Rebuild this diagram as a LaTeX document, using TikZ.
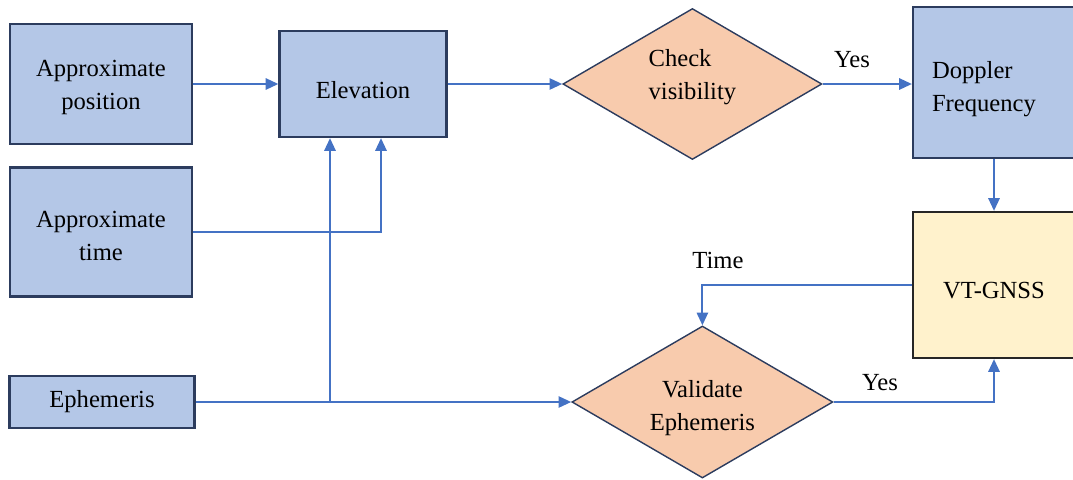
\documentclass[tikz,border=0pt]{standalone}
\usepackage{fontspec}
\setmainfont{Liberation Serif}
\usepackage{tikz}
\usetikzlibrary{shapes.geometric,arrows.meta}

\begin{document}
\begin{tikzpicture}[
        font=\fontsize{17.5}{23.5}\selectfont,
        blockbox/.style={draw=bordercolor, line width=1.6pt, fill=boxcolor, align=center, inner sep=0pt},
        decision/.style={diamond, draw=bordercolor, line width=1pt, fill=decisioncolor, align=center, inner sep=0pt, aspect=1.7},
        arrow/.style={draw=arrowcolor, line width=1.4pt, -{Triangle[length=9pt,width=8pt]}},
        plainline/.style={draw=arrowcolor, line width=1.4pt}
    ]
            \definecolor{boxcolor}{RGB}{180,199,231}
            \definecolor{bordercolor}{RGB}{44,60,94}
            \definecolor{decisioncolor}{RGB}{248,203,173}
            \definecolor{resultcolor}{RGB}{255,242,204}
            \definecolor{arrowcolor}{RGB}{68,114,196}

            \useasboundingbox (0,0) rectangle (26.825,-11.975);

            % Ingressi
            \node[blockbox, minimum width=4.55cm, minimum height=3cm] (pos) at (2.525,-2.1) {\rule{0pt}{0.6cm}Approximate\\ position};
            \node[blockbox, minimum width=4.55cm, minimum height=3.225cm] (time) at (2.525,-5.8) {\rule{0pt}{0.6cm}Approximate\\ time};
            \node[blockbox, minimum width=4.625cm, minimum height=1.3cm] (eph) at (2.55,-10.05) {Ephemeris};

            % Elevazione e visibilita
            \node[blockbox, minimum width=4.175cm, minimum height=2.65cm] (elev) at (9.075,-2.1) {\rule{0pt}{0.75cm}Elevation};
            \node[decision, minimum width=6.475cm, minimum height=3.775cm, align=left] (check) at (17.31,-2.1) {Check\\ visibility\rule[-0.5cm]{0pt}{0pt}};

            % Doppler e VT-GNSS
            \node[blockbox, minimum width=4.05cm, minimum height=3.775cm, text width=3.1cm, align=left] (doppler) at (24.85,-2.06) {\rule{0pt}{0.75cm}Doppler\\ Frequency};
            \node[blockbox, draw=black!85, fill=resultcolor, minimum width=4.05cm, minimum height=3.65cm] (vt) at (24.85,-7.125) {\rule{0pt}{0.7cm}VT-GNSS};

            % Validazione
            \node[decision, minimum width=6.525cm, minimum height=3.8cm] (valid) at (17.56,-10.05) {\rule{0pt}{0.75cm}Validate\\ Ephemeris};

            % Collegamenti
            \coordinate (split) at (8.25,-10.05);
            \draw[arrow] (pos) -- (elev);
            \draw[arrow] (elev.east) -- (check.west);
            \draw[arrow] (check.east) -- (doppler.west |- check.east);
            \node (yes1) at (21.3,-1.5) {Yes};
            \draw[arrow] (doppler) -- (vt);
            \draw[arrow] (time.east) -| ([xshift=0.45cm]elev.south);
            \draw[plainline] (eph.east) -- (split);
            \draw[arrow] (split) -- (valid.west);
            \draw[arrow] (split) -- (split |- elev.south);
            \draw[arrow] (vt.west) -| (valid.north);
            \node (timelabel) at (17.95,-6.5) {Time};
            \draw[arrow] (valid.east) -| (vt.south);
            \node (yes2) at (22,-9.575) {Yes};
        \end{tikzpicture}
\end{document}
